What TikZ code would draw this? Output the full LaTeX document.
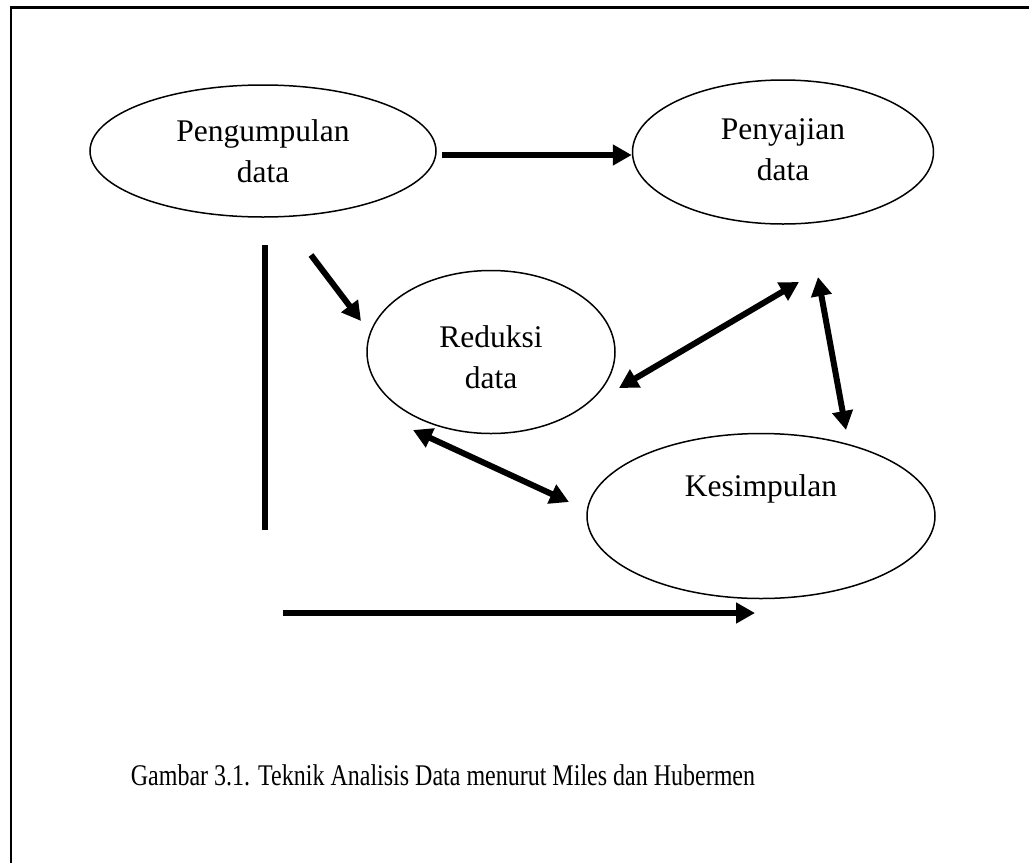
\documentclass[tikz,border=0pt]{standalone}
\usepackage{fontspec}
\setmainfont{Liberation Serif}
\newfontfamily\capfont{Liberation Serif}[FakeStretch=0.8]
\usetikzlibrary{arrows.meta,shapes.geometric,calc}

\begin{document}
\begin{tikzpicture}[
  x=1pt,y=-1pt,
  oval/.style={draw,ellipse,line width=1.5pt,inner sep=0pt},
  lbl/.style={align=center,font=\fontsize{31.5}{41}\selectfont},
  arr/.style={-{Triangle[length=19pt,width=20pt]},line width=6pt},
  dbl/.style={{Triangle[length=19pt,width=20pt]}-{Triangle[length=19pt,width=20pt]},line width=6pt}
]
\useasboundingbox (0,0) rectangle (1029,863);
% page frame, open at right and bottom
\draw[line width=2.5pt] (11,863) -- (11,7.5) -- (1029,7.5);

% the four stages
\node[oval,minimum width=346pt,minimum height=132pt] (kumpul) at (263,151) {};
\node[oval,minimum width=301pt,minimum height=144pt] (saji) at (783,152) {};
\node[oval,minimum width=248pt,minimum height=163pt] (reduksi) at (491,352) {};
\node[oval,minimum width=348pt,minimum height=165pt] (simpul) at (761,516) {};

\node[lbl] (kumpul-t) at (kumpul.center) {Pengumpulan\\data};
\node[lbl] (saji-t) at ($(saji.center)+(0,-2)$) {Penyajian\\data};
\node[lbl] (reduksi-t) at ($(reduksi.center)+(0,5)$) {Reduksi\\data};
\node[lbl] (simpul-t) at ($(simpul.center)+(0,-27)$) {Kesimpulan};

% loose ends of the connectors
\coordinate (v-top) at (265,245);
\coordinate (v-bot) at (265,530);
\coordinate (h-start) at (283,613);
\coordinate (h-end) at (755,613);
\coordinate (d-start) at (311,255);
\coordinate (d-end) at (361,321);
\coordinate (rs-a) at (619,388);
\coordinate (rs-b) at (799,282);
\coordinate (sk-a) at (818,277);
\coordinate (sk-b) at (846,430);
\coordinate (rk-a) at (413,430);
\coordinate (rk-b) at (569,502);

\draw[arr] ([xshift=5pt,yshift=-4pt]kumpul.east) -- ([yshift=-3pt]saji.west);
\draw[arr] (d-start) -- (d-end);
\draw[line width=6pt] (v-top) -- (v-bot);
\draw[arr] (h-start) -- (h-end);
\draw[dbl] (rs-a) -- (rs-b);
\draw[dbl] (sk-a) -- (sk-b);
\draw[dbl] (rk-a) -- (rk-b);

% caption
\node[font=\capfont\fontsize{30}{36}\selectfont,anchor=base] (caption) at (443,785)
  {Gambar 3.1. Teknik Analisis Data menurut Miles dan Hubermen};
\end{tikzpicture}
\end{document}
